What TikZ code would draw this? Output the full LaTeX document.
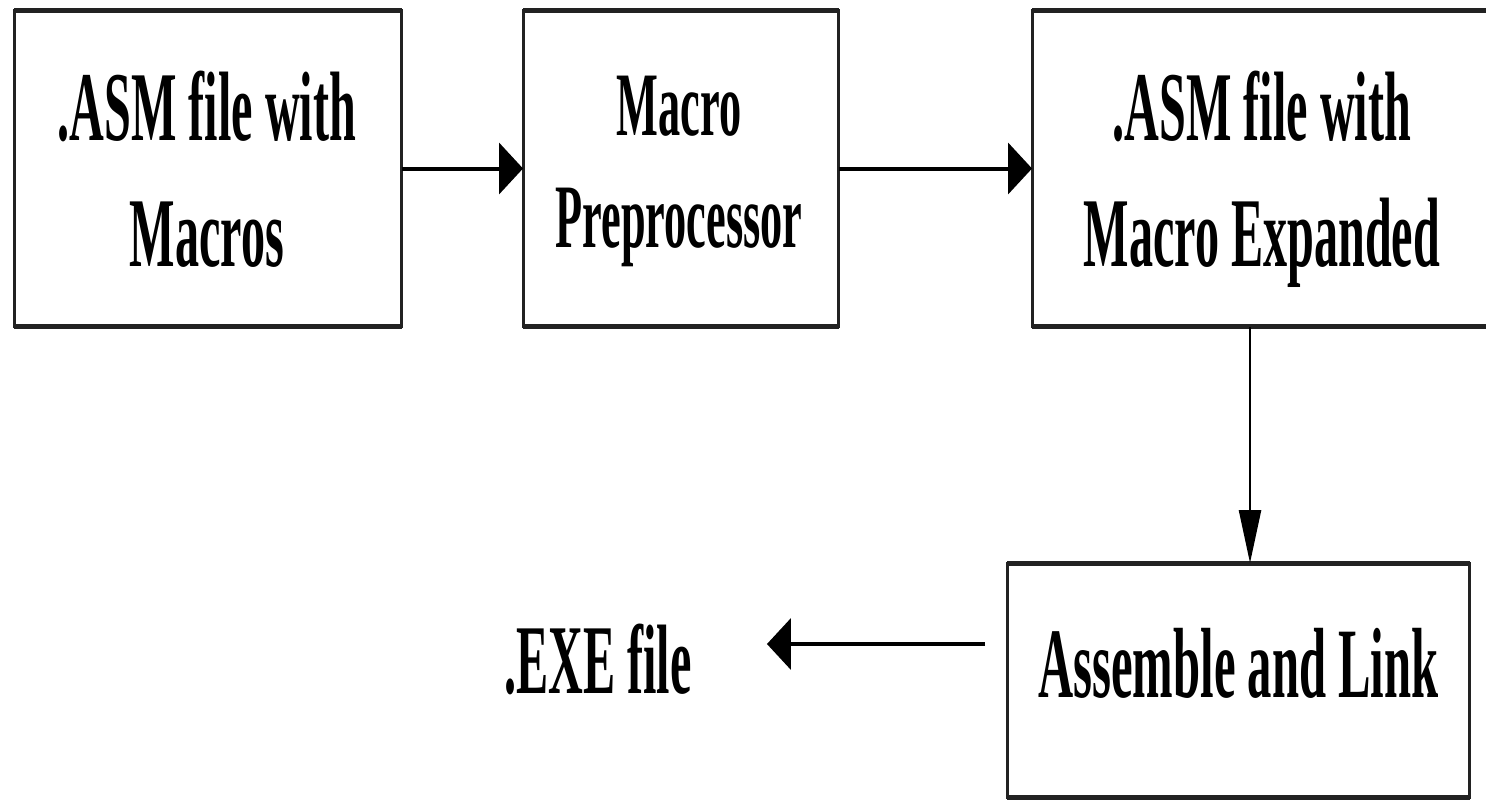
\documentclass[tikz,border=0pt]{standalone}
\usepackage{fontspec}
\setmainfont{Liberation Serif}
\usepackage{graphicx}
\usetikzlibrary{arrows.meta,calc}
\definecolor{edgecol}{HTML}{222222}
\newcommand\stxt[3]{\scalebox{1}[2.05]{\fontsize{#1}{#2}\selectfont\bfseries\begin{tabular}[t]{@{}c@{}}#3\end{tabular}}}
\begin{document}
\begin{tikzpicture}[x=0.02cm,y=-0.02cm,
  box/.style={draw=edgecol,line width=0.06cm,inner sep=0pt,outer sep=0pt,rectangle},
  thickedge/.style={draw=edgecol,line width=0.1cm},
  txt/.style={inner sep=0pt,anchor=base},
  harrow/.style={line width=0.08cm,-{Triangle[length=0.48cm,width=1.02cm]}},
  varrow/.style={line width=0.05cm,-{Triangle[length=1.06cm,width=0.44cm]}}]
\useasboundingbox (0,0) rectangle (1486,802);
\clip (0,0) rectangle (1486,802);
\fill[white] (0,0) rectangle (1486,802);
% boxes
\node[box,minimum width=7.76cm,minimum height=6.34cm] (b1) at (208,168.5) {};
\node[box,minimum width=6.32cm,minimum height=6.34cm] (b2) at (681,168.5) {};
\node[box,minimum width=9.2cm,minimum height=6.34cm] (b3) at (1262,168.5) {};
\node[box,minimum width=9.26cm,minimum height=4.7cm] (b4) at (1238.5,680.5) {};
\foreach \b in {b1,b2,b3,b4}{
  \draw[thickedge] (\b.north west) -- (\b.north east);
  \draw[thickedge] (\b.south west) -- (\b.south east);
}
% texts
\node[txt] (t1) at (207,140) {\stxt{27.4}{35.25}{.ASM file with\\Macros}};
\node[txt] (t2) at (679,135) {\stxt{25.2}{31.37}{Macro\\Preprocessor}};
\node[txt] (t3) at (1262,140) {\stxt{27.4}{35.25}{.ASM file with\\Macro Expanded}};
\node[txt] (t4) at (1238.5,697) {\stxt{27.7}{35.25}{Assemble and Link}};
\node[txt] (t5) at (598,693) {\stxt{27.4}{35.25}{.EXE file}};
% connectors
\draw[harrow] (b1) -- (b2);
\draw[harrow] (b2) -- (b3);
\coordinate (dx) at (1250,0);
\draw[varrow] (b3.south -| dx) -- (b4.north -| dx);
\coordinate (s4) at (985,644);
\draw[harrow,shorten >=1.5cm] (s4) -- (s4 -| t5.east);
\end{tikzpicture}
\end{document}
